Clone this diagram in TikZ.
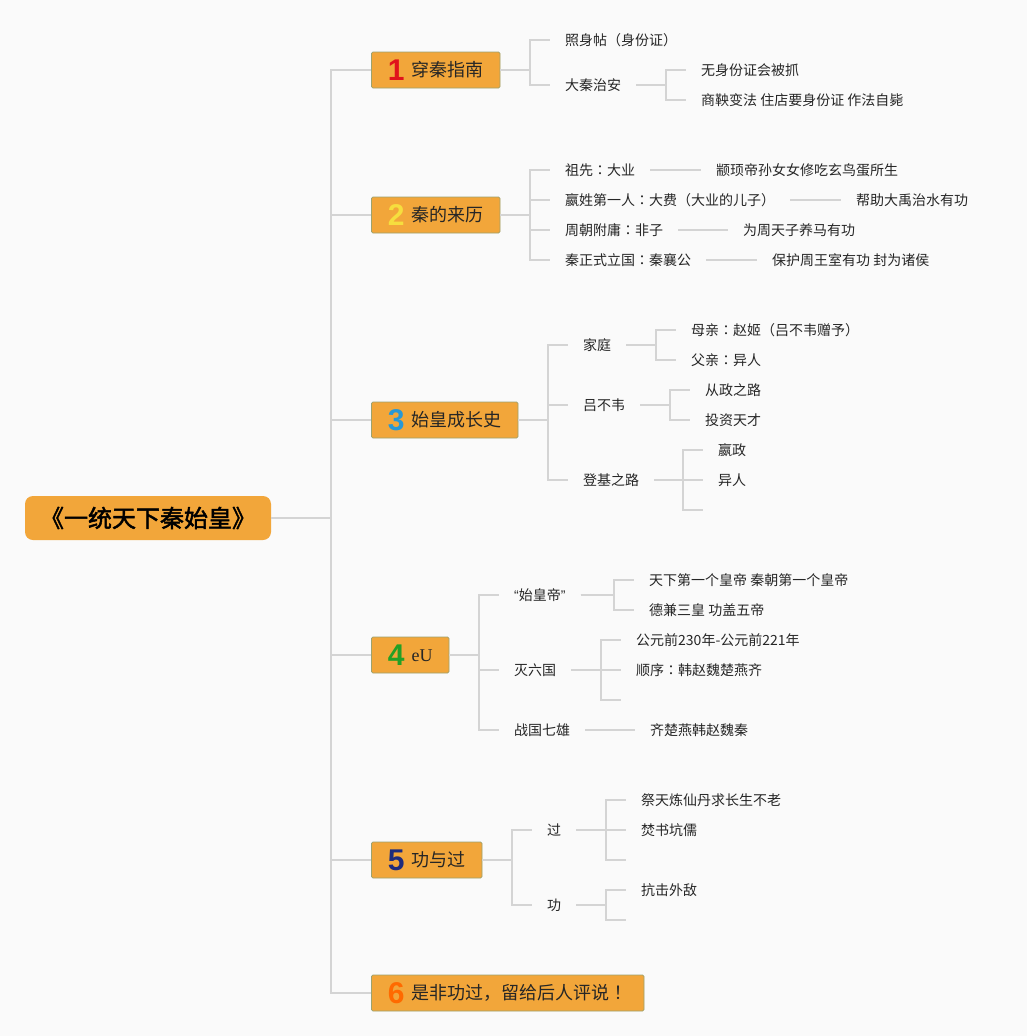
\documentclass[tikz,border=0pt]{standalone}
\usepackage{fontspec}
\setmainfont{Noto Sans CJK SC}[AutoFakeBold=2]
\newfontfamily\numfont{Liberation Sans}
\newfontfamily\eufont{Liberation Serif}
\newfontfamily\jpfont{Noto Sans CJK JP}
\definecolor{paper}{HTML}{FAFAFA}
\definecolor{boxfill}{HTML}{F2A63A}
\definecolor{boxline}{HTML}{9CA26E}
\definecolor{linkgray}{HTML}{D4D4D4}
\definecolor{ink}{HTML}{262626}
\definecolor{numA}{HTML}{E0141C}
\definecolor{numB}{HTML}{F6DE3E}
\definecolor{numC}{HTML}{2898D5}
\definecolor{numD}{HTML}{23A025}
\definecolor{numE}{HTML}{1E2B7C}
\definecolor{numF}{HTML}{FF6A00}
\newcommand{\bnum}[2]{{\numfont\bfseries\fontsize{30}{30}\selectfont\color{#1}\raisebox{-3.8pt}{#2}}\hspace{7pt}}
\newcommand{\cl}{{\jpfont ：}}

\begin{document}
\begin{tikzpicture}[x=1pt,y=-1pt,
	link/.style={draw=linkgray,line width=1.6pt},
	root/.style={fill=boxfill,rounded corners=8pt,minimum width=246pt,minimum height=44pt,
		text height=18.2pt,text depth=0pt,font=\fontsize{24}{24}\selectfont\bfseries,text=black},
	topic/.style={anchor=west,fill=boxfill,draw=boxline,line width=0.8pt,rounded corners=1.5pt,
		minimum height=36pt,inner xsep=16.5pt,text height=13.7pt,text depth=0pt,
		font=\fontsize{18}{18}\selectfont,text=ink},
	leaf/.style={anchor=west,inner xsep=15pt,inner ysep=1pt,text height=10.6pt,text depth=0pt,
		font=\fontsize{14}{14}\selectfont,text=ink}]
	\fill[paper] (0,0) rectangle (1027,1036);
	\useasboundingbox (0,0) rectangle (1027,1036);

	% centre and the six topics
	\node[root] (qin) at (148,518) {《一统天下秦始皇》};
	\node[topic] (guide) at (371,70) {\bnum{numA}{1}穿秦指南};
	\node[topic] (origin) at (371,215) {\bnum{numB}{2}秦的来历};
	\node[topic] (growth) at (371,420) {\bnum{numC}{3}始皇成长史};
	\node[topic] (unify) at (371,655) {\bnum{numD}{4}{\eufont eU}};
	\node[topic] (merit) at (371,860) {\bnum{numE}{5}功与过};
	\node[topic] (verdict) at (371,993) {\bnum{numF}{6}是非功过，留给后人评说{\jpfont ！}};

	% 1
	\node[leaf] (idcard) at (550,40) {照身帖（身份证）};
	\node[leaf] (order) at (550,85) {大秦治安};
	\node[leaf] (caught) at (686,70) {无身份证会被抓};
	\node[leaf] (shangyang) at (686,100) {商鞅变法 住店要身份证 作法自毙};

	% 2
	\node[leaf] (dayie) at (550,170) {祖先\cl 大业};
	\node[leaf] (xuanniao) at (701,170) {颛顼帝孙女女修吃玄鸟蛋所生};
	\node[leaf] (dafei) at (550,200) {嬴姓第一人\cl 大费（大业的儿子）};
	\node[leaf] (dayu) at (841,200) {帮助大禹治水有功};
	\node[leaf] (feizi) at (550,230) {周朝附庸\cl 非子};
	\node[leaf] (horses) at (728,230) {为周天子养马有功};
	\node[leaf] (xianggong) at (550,260) {秦正式立国\cl 秦襄公};
	\node[leaf] (zhuhou) at (757,260) {保护周王室有功 封为诸侯};

	% 3
	\node[leaf] (family) at (568,345) {家庭};
	\node[leaf] (mother) at (676,330) {母亲\cl 赵姬（吕不韦赠予）};
	\node[leaf] (father) at (676,360) {父亲\cl 异人};
	\node[leaf] (lv) at (568,405) {吕不韦};
	\node[leaf] (politics) at (690,390) {从政之路};
	\node[leaf] (invest) at (690,420) {投资天才};
	\node[leaf] (throne) at (568,480) {登基之路};
	\node[leaf] (yingzheng) at (703,450) {嬴政};
	\node[leaf] (yiren) at (703,480) {异人};
	\coordinate (throneend) at (703,510);

	% 4
	\node[leaf] (title) at (499,595) {{\numfont “}始皇帝{\numfont ”}};
	\node[leaf] (first) at (634,580) {天下第一个皇帝 秦朝第一个皇帝};
	\node[leaf] (virtue) at (634,610) {德兼三皇 功盖五帝};
	\node[leaf] (six) at (499,670) {灭六国};
	\node[leaf] (years) at (621,640) {公元前230年-公元前221年};
	\node[leaf] (sequence) at (621,670) {顺序\cl 韩赵魏楚燕齐};
	\coordinate (sixend) at (621,700);
	\node[leaf] (seven) at (499,730) {战国七雄};
	\node[leaf] (states) at (635,730) {齐楚燕韩赵魏秦};

	% 5
	\node[leaf] (guo) at (532,830) {过};
	\node[leaf] (elixir) at (626,800) {祭天炼仙丹求长生不老};
	\node[leaf] (books) at (626,830) {焚书坑儒};
	\coordinate (guoend) at (626,860);
	\node[leaf] (gong) at (532,905) {功};
	\node[leaf] (defend) at (626,890) {抗击外敌};
	\coordinate (gongend) at (626,920);

	\foreach \t in {guide,origin,growth,unify,merit,verdict}
		\draw[link] (qin.east) -| ([xshift=-40pt]\t.west) -- (\t.west);
	\foreach \p/\c in {guide/idcard,guide/order,order/caught,order/shangyang,
		origin/dayie,origin/dafei,origin/feizi,origin/xianggong,
		dayie/xuanniao,dafei/dayu,feizi/horses,xianggong/zhuhou,
		growth/family,growth/lv,growth/throne,family/mother,family/father,
		lv/politics,lv/invest,throne/yingzheng,throne/yiren,
		unify/title,unify/six,unify/seven,title/first,title/virtue,
		six/years,six/sequence,seven/states,
		merit/guo,merit/gong,guo/elixir,guo/books,gong/defend}
		\draw[link] (\p.east) -| ([xshift=-20pt]\c.west) -- (\c.west);
	\foreach \p/\c in {throne/throneend,six/sixend,guo/guoend,gong/gongend}
		\draw[link] (\p.east) -| ([xshift=-20pt]\c) -- (\c);
\end{tikzpicture}
\end{document}
